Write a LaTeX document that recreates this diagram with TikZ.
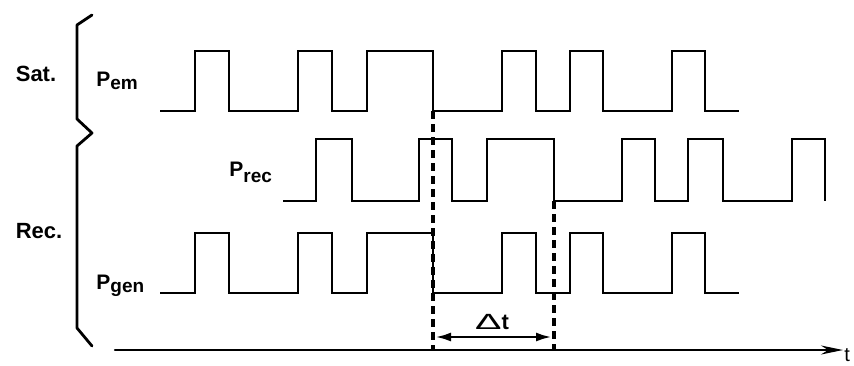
\documentclass[tikz,border=0pt]{standalone}
\usepackage{fontspec}
\setmainfont{Liberation Sans}
\usetikzlibrary{arrows.meta}

\begin{document}
\begin{tikzpicture}[x=0.5pt,y=-0.5pt,line cap=round] %% 1 unit = 1 px
	\tikzstyle{sig}=[line width=1.25pt,line cap=butt];
	\tikzstyle{dashline}=[line width=1.6pt,dash pattern=on 4pt off 2.5pt,line cap=butt];
	\tikzstyle{lbl}=[font=\fontsize{11}{12}\selectfont\bfseries,inner sep=0pt,anchor=base];
	\tikzstyle{signame}=[font=\fontsize{10.5}{12}\selectfont\bfseries,inner sep=0pt,anchor=base west];
	\useasboundingbox (0,0) rectangle (854,365);
	%% brace
	\draw[line width=1.4pt,line join=round] (92,15) -- (77,25) -- (77,119) -- (92,133) -- (77,146) -- (77,328) -- (92,346);
	%% labels
	\node[lbl] (sat) at (36,81) {Sat.};
	\node[lbl] (rec) at (39,238) {Rec.};
	\node[signame] (pem) at (96,86) {P\raisebox{-1.5pt}{\fontsize{9.5}{9}\selectfont em}};
	\node[signame] (prec) at (229,176) {P\raisebox{-3pt}{\fontsize{9.5}{9}\selectfont rec}};
	\node[signame] (pgen) at (96,289) {P\raisebox{-1.5pt}{\fontsize{9.5}{9}\selectfont gen}};
	%% pulse trains
	\draw[sig] (160,111) foreach \up/\dn in {195/229,298/332,367/433,502/536,570/603,672/705} { -| (\up,51) -| (\dn,111) } -- (739,111);
	\draw[sig] (283,201) foreach \up/\dn in {316/352,419/452,487/554,622/655,688/723,792/825} { -| (\up,139) -| (\dn,201) };
	\draw[sig] (160,293) foreach \up/\dn in {195/229,298/332,367/433,502/536,570/603,672/705} { -| (\up,233) -| (\dn,293) } -- (739,293);
	%% time axis
	\coordinate (t0) at (115,350);
	\coordinate (t1) at (843,350);
	\draw[line width=1.1pt,-{Stealth[length=11pt,width=4.5pt]}] (t0) -- (t1);
	\node[anchor=base west,inner sep=0pt] (tlab) at (844,361) {t};
	%% delay markers
	\coordinate (d1) at (433,111);
	\coordinate (d1b) at (433,351);
	\coordinate (d2) at (554,201);
	\coordinate (d2b) at (554,351);
	\draw[dashline] (d1) -- (d1b);
	\draw[dashline] (d2) -- (d2b);
	\coordinate (dt1) at (435,337);
	\coordinate (dt2) at (552,337);
	\draw[line width=1.4pt,{Latex[length=8pt,width=4.5pt]}-{Latex[length=8pt,width=4.5pt]}] (dt1) -- (dt2);
	\node[anchor=base,inner sep=0pt] (dt) at (492,329) {\fontsize{11}{12}\selectfont\scalebox{1.8}[1]{Δ}\textbf{t}};
\end{tikzpicture}
\end{document}
